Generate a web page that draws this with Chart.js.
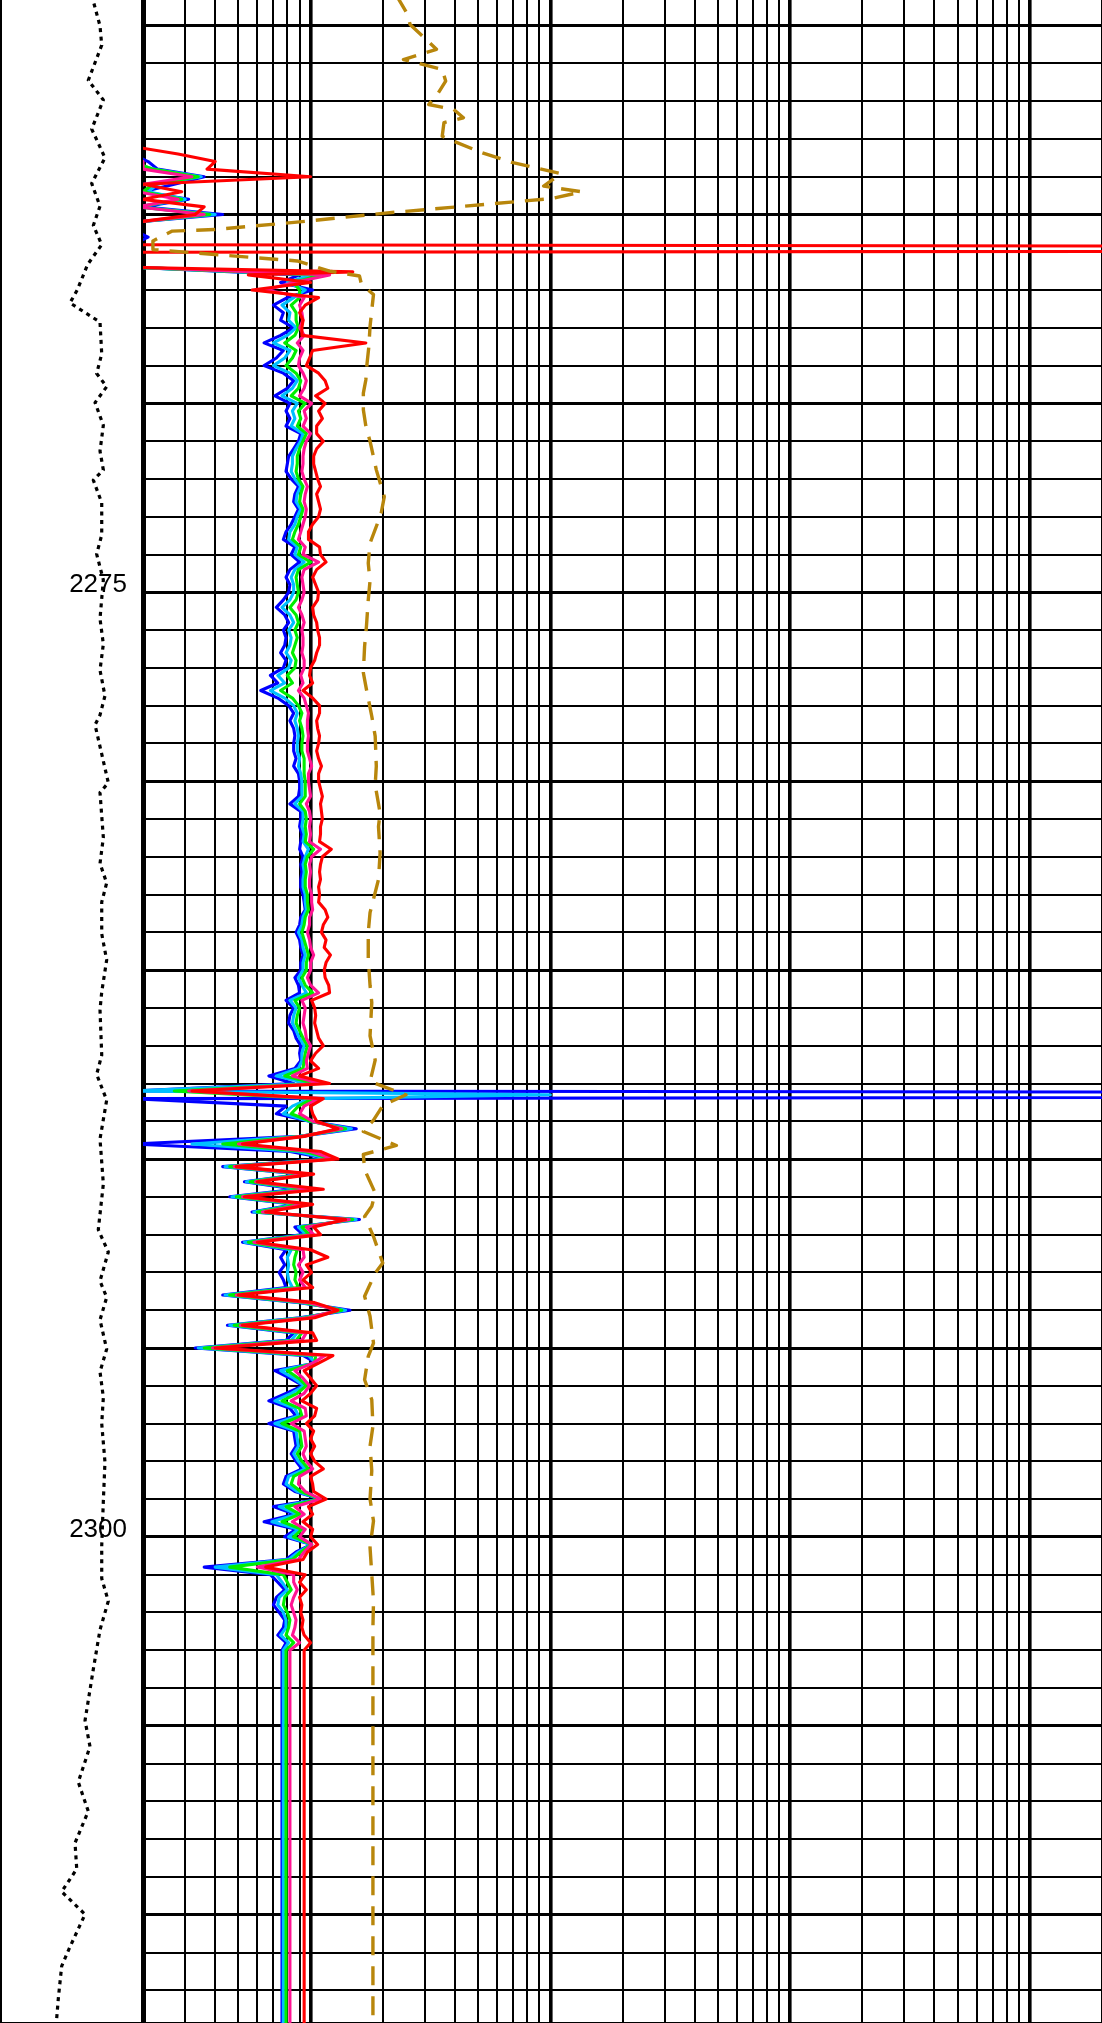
<!DOCTYPE html>
<html lang="en">
<head>
<meta charset="UTF-8">
<title>Resistivity log</title>
<style>
    html, body { margin: 0; padding: 0; background: #fff; overflow: hidden; }
    #track { position: relative; width: 1102px; height: 2023px; }
    #track canvas { position: absolute; top: 0; }
    #grCanvas { left: 0; }
    #logCanvas { left: 137px; }
</style>
<script src="https://cdn.jsdelivr.net/npm/chart.js"></script>
</head>
<body>
<div id="track">
    <canvas id="grCanvas" width="143" height="2023"></canvas>
    <canvas id="logCanvas" width="965" height="2023"></canvas>
</div>
<script>
// depth window and grid
const depthMin = 2259.324;
const depthMax = 2312.866;
const depthLabels = [2275, 2300];
const depthLines = [2260, 2261, 2262, 2263, 2264, 2265, 2266, 2267, 2268, 2269,
    2270, 2271, 2272, 2273, 2274, 2275, 2276, 2277, 2278, 2279,
    2280, 2281, 2282, 2283, 2284, 2285, 2286, 2287, 2288, 2289,
    2290, 2291, 2292, 2293, 2294, 2295, 2296, 2297, 2298, 2299,
    2300, 2301, 2302, 2303, 2304, 2305, 2306, 2307, 2308, 2309,
    2310, 2311, 2312];
const resLines = [2, 3, 4, 5, 6, 7, 8, 9, 10, 20, 30, 40, 50, 60, 70, 80, 90,
    100, 200, 300, 400, 500, 600, 700, 800, 900,
    1000, 2000, 3000, 4000, 5000, 6000, 7000, 8000, 9000, 10000, 20000];
const resDecades = [10, 100, 1000, 10000];

// sample depths shared by the five resistivity curves
const depthGrid = [
    2263.2, 2263.4, 2263.6, 2263.8, 2264.0, 2264.2, 2264.4, 2264.6, 2264.8, 2265.0,
    2265.2, 2265.4, 2265.6, 2265.8, 2266.0, 2266.2, 2266.4, 2266.6, 2266.8, 2267.0,
    2267.2, 2267.4, 2267.6, 2267.8, 2268.0, 2268.2, 2268.4, 2268.6, 2268.8, 2269.0,
    2269.2, 2269.4, 2269.6, 2269.8, 2270.0, 2270.2, 2270.4, 2270.6, 2270.8, 2271.0,
    2271.2, 2271.4, 2271.6, 2271.8, 2272.0, 2272.2, 2272.4, 2272.6, 2272.8, 2273.0,
    2273.2, 2273.4, 2273.6, 2273.8, 2274.0, 2274.2, 2274.4, 2274.6, 2274.8, 2275.0,
    2275.2, 2275.4, 2275.6, 2275.8, 2276.0, 2276.2, 2276.4, 2276.6, 2276.8, 2277.0,
    2277.2, 2277.4, 2277.6, 2277.8, 2278.0, 2278.2, 2278.4, 2278.6, 2278.8, 2279.0,
    2279.2, 2279.4, 2279.6, 2279.8, 2280.0, 2280.2, 2280.4, 2280.6, 2280.8, 2281.0,
    2281.2, 2281.4, 2281.6, 2281.8, 2282.0, 2282.2, 2282.4, 2282.6, 2282.8, 2283.0,
    2283.2, 2283.4, 2283.6, 2283.8, 2284.0, 2284.2, 2284.4, 2284.6, 2284.8, 2285.0,
    2285.2, 2285.4, 2285.6, 2285.8, 2286.0, 2286.2, 2286.4, 2286.6, 2286.8, 2287.0,
    2287.2, 2287.4, 2287.6, 2287.8, 2288.0, 2288.2, 2288.4, 2288.6, 2288.8, 2289.0,
    2289.2, 2289.4, 2289.6, 2289.8, 2290.0, 2290.2, 2290.4, 2290.6, 2290.8, 2291.0,
    2291.2, 2291.4, 2291.6, 2291.8, 2292.0, 2292.2, 2292.4, 2292.6, 2292.8, 2293.0,
    2293.2, 2293.4, 2293.6, 2293.8, 2294.0, 2294.2, 2294.4, 2294.6, 2294.8, 2295.0,
    2295.2, 2295.4, 2295.6, 2295.8, 2296.0, 2296.2, 2296.4, 2296.6, 2296.8, 2297.0,
    2297.2, 2297.4, 2297.6, 2297.8, 2298.0, 2298.2, 2298.4, 2298.6, 2298.8, 2299.0,
    2299.2, 2299.4, 2299.6, 2299.8, 2300.0, 2300.2, 2300.4, 2300.6, 2300.8, 2301.0,
    2301.2, 2301.4, 2301.6, 2301.8, 2302.0, 2302.2, 2302.4, 2302.6, 2302.8, 2303.0,
    2313.0
];

const resBlue = [
    1.8, 1.8, 2.1, 2.3, 3.6, 2.7, 2.0, 3.1, 2.0, 4.3,
    1.9, 1.8, 2.1, 1.8, 1.8, 1.8, 1.9, 9.0, 7.5, 10.2,
    8.0, 7.0, 7.7, 7.5, 8.5, 7.5, 6.4, 7.7, 7.2, 6.4,
    7.7, 8.5, 8.0, 7.1, 8.2, 7.9, 8.2, 7.9, 9.1, 8.9,
    8.5, 8.1, 8.0, 7.9, 8.3, 8.9, 8.6, 8.5, 8.9, 8.6,
    8.3, 7.9, 7.7, 8.6, 8.3, 9.0, 8.2, 7.9, 8.2, 8.1,
    7.7, 7.2, 7.8, 8.1, 7.7, 7.9,
    7.8, 7.5, 7.9, 7.7, 6.8, 7.3, 6.2, 7.3, 8.1, 8.5,
    8.2, 8.5, 8.6, 8.5, 8.5, 8.7, 8.5, 8.9, 9.0, 9.0,
    8.9, 8.2, 9.1, 9.1, 9.0, 9.2, 9.1, 9.0, 9.3, 9.1,
    9.2, 9.1, 9.1, 9.3, 9.4, 9.5, 9.1, 9.0, 8.7, 9.0,
    9.1, 9.3, 9.1, 9.1, 8.6, 8.9, 9.0, 7.9, 8.5, 8.2,
    8.1, 8.5,
    8.7, 9.1, 9.0, 9.1, 8.6, 6.7, 8.5, 1.8, 1.8, 7.9,
    7.2, 9.9, 15.5, 9.0, 1.8, 8.2, 12.0, 4.3, 9.3, 5.3,
    8.7, 4.6, 8.7, 5.7, 16.0, 8.6, 9.3, 5.2, 7.9, 7.5,
    7.8, 7.4, 7.7, 7.9, 4.3, 9.0, 14.6, 9.0, 4.5, 8.5,
    7.9, 3.3, 9.3, 10.6, 7.1, 8.2, 9.3, 7.9, 6.7, 8.2,
    8.7, 6.7,
    8.5, 8.6, 8.7, 8.3, 8.7, 9.2, 7.9, 7.7, 8.6, 11.0,
    7.0, 8.6, 6.4, 8.7, 7.8, 10.1, 8.7, 7.9, 3.6, 6.8,
    7.3, 7.8, 7.2, 7.0, 7.4, 7.8, 7.7, 7.3, 7.9, 7.6,
    7.6
];
const resCyan = [
    1.8, 1.8, 1.8, 2.2, 3.5, 2.3, 2.1, 3.0, 1.9, 4.0,
    1.9, 1.8, 1.8, 1.8, 1.8, 1.8, 1.9, 10.0, 8.0, 9.5,
    8.5, 7.6, 8.2, 8.1, 8.7, 8.0, 7.0, 8.2, 7.8, 7.0,
    8.2, 8.8, 8.4, 7.6, 8.8, 8.4, 8.6, 8.3, 9.3, 9.1,
    8.7, 8.4, 8.4, 8.3, 8.6, 9.1, 8.8, 8.7, 9.1, 8.8,
    8.6, 8.2, 8.1, 8.8, 8.6, 9.4, 8.6, 8.3, 8.5, 8.5,
    8.2, 7.6, 8.2, 8.5, 8.1, 8.3,
    8.2, 7.9, 8.3, 8.1, 7.3, 7.8, 6.8, 7.8, 8.5, 8.8,
    8.6, 8.8, 8.9, 8.8, 8.8, 9.0, 8.9, 9.1, 9.2, 9.2,
    9.2, 8.6, 9.3, 9.3, 9.2, 9.4, 9.3, 9.8, 9.5, 9.3,
    9.4, 9.3, 9.3, 9.5, 9.5, 9.6, 9.3, 9.2, 8.9, 9.2,
    9.3, 9.5, 9.3, 9.3, 8.9, 9.2, 9.6, 8.2, 8.7, 8.5,
    8.4, 8.7,
    9.0, 9.4, 9.2, 9.2, 8.9, 7.2, 9.8, 1.8, 9.9, 8.4,
    7.7, 9.9, 14.8, 9.0, 3.2, 8.8, 12.1, 4.4, 9.4, 5.4,
    9.2, 4.7, 8.9, 5.8, 15.5, 8.9, 9.6, 5.3, 8.3, 8.0,
    8.1, 8.0, 8.1, 8.4, 4.4, 9.2, 14.0, 9.2, 4.6, 8.8,
    8.3, 3.4, 9.8, 10.5, 7.5, 8.5, 9.4, 8.3, 7.1, 8.6,
    8.9, 7.1,
    8.7, 8.8, 8.9, 8.5, 8.9, 9.5, 8.1, 7.9, 8.8, 11.0,
    7.4, 8.8, 6.9, 8.9, 8.1, 10.1, 8.9, 8.1, 4.0, 7.2,
    7.6, 8.0, 7.4, 7.3, 7.7, 7.9, 7.9, 7.5, 8.1, 7.7,
    7.7
];
const resGreen = [
    1.8, 1.8, 1.8, 2.2, 3.4, 2.2, 2.0, 2.9, 1.9, 3.8,
    1.9, 1.8, 1.8, 1.8, 1.8, 1.8, 1.9, 11.0, 8.5, 9.0,
    9.0, 8.3, 8.7, 8.7, 8.9, 8.6, 7.8, 8.7, 8.4, 7.9,
    8.7, 9.1, 8.9, 8.3, 9.5, 8.9, 9.1, 8.8, 9.6, 9.3,
    9.0, 8.8, 8.8, 8.7, 8.9, 9.3, 9.1, 9.0, 9.3, 9.1,
    8.9, 8.6, 8.4, 9.1, 8.9, 10.0, 8.9, 8.7, 8.8, 8.9,
    8.7, 8.2, 8.7, 8.9, 8.6, 8.8,
    8.6, 8.4, 8.7, 8.6, 8.0, 8.4, 7.5, 8.4, 8.9, 9.2,
    9.0, 9.2, 9.3, 9.2, 9.2, 9.4, 9.4, 9.4, 9.5, 9.5,
    9.5, 9.0, 9.5, 9.6, 9.5, 9.6, 9.5, 10.3, 9.7, 9.5,
    9.6, 9.5, 9.5, 9.7, 9.7, 9.8, 9.5, 9.4, 9.2, 9.4,
    9.6, 9.8, 9.6, 9.6, 9.2, 9.5, 10.2, 8.6, 9.0, 8.8,
    8.7, 9.0,
    9.3, 9.7, 9.5, 9.4, 9.3, 7.8, 10.5, 2.7, 10.2, 8.9,
    8.3, 10.0, 14.0, 9.1, 4.3, 9.5, 12.3, 4.6, 9.6, 5.6,
    9.7, 4.9, 9.2, 6.0, 15.0, 9.2, 9.9, 5.5, 8.8, 8.6,
    8.5, 8.7, 8.6, 8.9, 4.6, 9.5, 13.5, 9.5, 4.8, 9.2,
    8.7, 3.6, 10.5, 10.4, 8.0, 8.9, 9.6, 8.8, 7.6, 9.0,
    9.2, 7.6,
    9.0, 9.1, 9.2, 8.8, 9.2, 9.8, 8.5, 8.3, 9.1, 11.0,
    7.9, 9.0, 7.6, 9.2, 8.5, 10.1, 9.1, 8.4, 4.6, 7.7,
    8.0, 8.3, 7.8, 7.7, 8.0, 8.2, 8.1, 7.9, 8.5, 7.9,
    7.9
];
const resPink = [
    1.8, 1.8, 2.0, 2.0, 3.2, 2.0, 1.9, 2.8, 1.9, 3.6,
    1.9, 1.8, 1.8, 1.8, 1.8, 1.8, 1.9, 12.0, 8.5, 6.5,
    9.4, 9.0, 9.2, 9.3, 9.0, 9.4, 8.8, 9.3, 9.0, 8.9,
    9.3, 9.6, 9.4, 9.0, 10.1, 9.4, 9.6, 9.3, 10.0, 9.6,
    9.4, 9.3, 9.3, 9.2, 9.4, 9.7, 9.5, 9.4, 9.6, 9.5,
    9.3, 9.1, 8.9, 9.5, 9.3, 10.8, 9.4, 9.2, 9.3, 9.4,
    9.2, 8.9, 9.2, 9.4, 9.2, 9.3,
    9.3, 9.2, 9.4, 9.4, 9.1, 9.3, 8.9, 9.4, 9.6, 9.8,
    9.7, 9.7, 9.8, 9.7, 9.7, 9.9, 10.1, 9.8, 9.8, 9.9,
    10.0, 9.6, 9.9, 10.0, 9.9, 10.0, 9.9, 11.0, 10.1, 9.9,
    10.0, 9.9, 9.9, 10.1, 10.1, 10.2, 9.9, 9.9, 9.7, 9.9,
    10.0, 10.3, 10.0, 10.0, 9.7, 10.0, 10.8, 9.2, 9.5, 9.4,
    9.3, 9.5,
    9.6, 10.0, 9.8, 9.6, 9.7, 8.4, 11.0, 3.1, 10.8, 9.4,
    9.0, 10.2, 13.5, 9.2, 5.0, 10.0, 12.5, 4.8, 9.8, 5.9,
    10.2, 5.2, 9.6, 6.3, 14.5, 9.6, 10.3, 5.8, 9.3, 9.4,
    8.9, 9.3, 9.0, 9.5, 4.9, 9.8, 13.0, 9.8, 5.1, 9.6,
    9.2, 3.9, 11.5, 10.2, 8.6, 9.3, 9.9, 9.4, 8.3, 9.5,
    9.6, 8.3,
    9.4, 9.5, 9.6, 9.3, 9.6, 10.2, 9.0, 8.9, 9.5, 11.0,
    8.6, 9.4, 8.4, 9.5, 9.0, 10.1, 9.4, 8.9, 6.0, 8.5,
    8.5, 8.8, 8.5, 8.3, 8.5, 8.7, 8.6, 8.4, 9.0, 8.2,
    8.2
];
const resRed = [
    1.8, 2.8, 4.0, 3.7, 10.0, 2.0, 2.9, 2.0, 3.6, 3.3,
    1.9, 1.8, 1.8, 1.8, 1.8, 1.8, 1.9, 5.5, 10.0, 5.7,
    10.8, 9.5, 9.0, 9.3, 9.2, 9.2, 17.0, 10.2, 9.9, 9.6,
    10.8, 11.5, 11.8, 10.5, 11.5, 10.8, 11.2, 10.6, 10.6, 11.3,
    10.6, 10.3, 10.3, 10.5, 10.7, 11.0, 10.6, 10.8, 11.0, 10.8,
    10.2, 9.8, 9.8, 10.9, 11.0, 11.6, 10.6, 10.2, 10.5, 10.8,
    10.7, 10.2, 10.3, 10.6, 10.7, 10.9,
    10.9, 10.6, 10.4, 10.0, 9.9, 10.2, 9.3, 10.2, 10.9, 10.9,
    10.6, 10.7, 10.9, 10.8, 10.6, 10.8, 11.1, 10.8, 10.8, 11.0,
    11.2, 11.0, 11.1, 11.2, 11.0, 11.0, 10.9, 12.2, 11.2, 11.0,
    10.9, 11.0, 10.8, 10.9, 10.8, 11.5, 11.8, 11.3, 11.1, 11.6,
    11.4, 12.1, 11.6, 11.4, 11.5, 11.9, 12.0, 10.1, 10.4, 10.5,
    10.4, 10.6,
    10.8, 11.3, 10.5, 10.0, 10.8, 9.0, 12.0, 3.2, 11.3, 10.0,
    10.2, 10.6, 13.0, 9.4, 5.2, 11.0, 13.0, 4.9, 10.3, 6.0,
    11.3, 5.3, 10.2, 6.5, 14.0, 10.3, 11.0, 6.0, 10.0, 11.8,
    9.6, 10.1, 9.3, 10.2, 5.0, 10.4, 13.0, 10.4, 5.2, 10.2,
    10.6, 4.0, 12.4, 10.8, 9.4, 10.0, 10.6, 10.0, 9.2, 10.6,
    10.4, 9.6,
    10.3, 10.0, 10.4, 10.0, 10.4, 11.3, 10.0, 10.2, 10.3, 11.6,
    9.8, 10.2, 9.3, 10.2, 10.0, 10.7, 9.7, 9.3, 6.5, 9.5,
    9.0, 9.6, 9.0, 9.2, 9.1, 9.3, 9.2, 9.4, 10.0, 9.4,
    9.4
];
// off-scale spikes between the shared samples: [depth, value]
const blueSpikes = [[2288.3, 1e15]];
const cyanSpikes = [[2288.3, 100]];
const redSpikes = [[2265.92, 1e15], [2266.52, 15]];

// dashed curve
const dashDepth = [2259.2, 2259.71, 2259.97, 2260.33, 2260.63, 2260.9, 2261.16, 2261.47, 2261.78, 2262.09,
    2262.22, 2262.44, 2262.57, 2262.93, 2263.06, 2263.37, 2263.63, 2263.92, 2264.25, 2264.4,
    2264.58, 2264.97, 2265.18, 2265.4, 2265.44, 2265.7, 2265.93, 2266.06, 2266.23, 2266.5,
    2266.63, 2266.85, 2267.12, 2267.53, 2267.97, 2268.5, 2268.94, 2269.38, 2269.73, 2270.17,
    2270.6, 2271.0, 2271.76, 2272.47, 2272.9, 2273.26, 2273.7, 2274.23, 2274.7, 2275.2,
    2275.9, 2276.43, 2277.13, 2277.57, 2278.28, 2278.81, 2279.6, 2280.1, 2280.84, 2281.2,
    2281.9, 2282.6, 2283.48, 2284.0, 2284.7, 2285.4, 2285.86, 2286.74, 2287.38, 2287.95,
    2288.3, 2288.57, 2288.97, 2289.27, 2289.64, 2289.88, 2290.28, 2290.9, 2291.25, 2291.52,
    2292.05, 2292.75, 2293.02, 2293.63, 2294.16, 2294.87, 2295.22, 2295.84, 2296.37, 2297.07,
    2297.6, 2298.25, 2299.0, 2299.58, 2300.28, 2300.99, 2301.7, 2302.4, 2313];
const dashValue = [22.8, 25.4, 26, 29.9, 33.5, 24.4, 35.4, 36.6, 34.1, 31.1,
    39.5, 43.4, 36, 35.4, 39.5, 52.1, 69.9, 110.6, 93.8, 135.5,
    101, 20, 9.6, 3.97, 2.65, 2.2, 2.2, 4.0, 8.8, 12,
    16, 16.3, 18.3, 18.0, 17.7, 17.5, 17.2, 17.0, 16.6, 16.6,
    17.0, 17.7, 18.8, 20.3, 19.7, 18.8, 17.7, 17.4, 17.7, 17.4,
    17.1, 16.8, 16.6, 17.1, 18.0, 18.6, 18.8, 18.6, 19.5, 19.2,
    19.5, 19.2, 17.7, 17.4, 17.4, 17.7, 18.0, 17.7, 18.6, 17.7,
    25.0, 20.1, 18.3, 16.6, 22.8, 16.6, 16.8, 18.6, 18.0, 16.8,
    18.3, 20.0, 18.6, 16.8, 17.7, 18.3, 17.4, 16.8, 18.0, 18.2,
    17.7, 18.0, 17.7, 18.3, 17.7, 18.0, 18.3, 18.2, 18.2];

// dotted curve in the depth track (0-150 scale)
const grDepth = [2259.2, 2260.01, 2260.52, 2261.45, 2261.97, 2262.74, 2263.5, 2264.18, 2264.78, 2265.29,
    2265.8, 2266.32, 2267.0, 2267.34, 2267.85, 2268.69, 2269.21, 2269.56, 2269.98, 2270.58,
    2271.26, 2271.76, 2272.03, 2272.63, 2273.48, 2273.99, 2274.67, 2275.7, 2276.37, 2277.06,
    2277.74, 2278.25, 2278.51, 2280.04, 2280.3, 2281.49, 2282.18, 2282.69, 2283.2, 2284.04,
    2284.73, 2285.58, 2286.05, 2287.25, 2287.76, 2288.44, 2289.47, 2290.66, 2291.87, 2292.46,
    2293.23, 2293.66, 2294.26, 2295.03, 2295.63, 2296.31, 2297.0, 2298.02, 2299.05, 2300.24,
    2301.1, 2301.7, 2302.46, 2303.5, 2304.86, 2305.55, 2306.49, 2307.26, 2308.1, 2308.79,
    2309.39, 2309.99, 2310.85, 2311.36, 2312.21, 2312.73, 2313];
const grValue = [96.2, 104.9, 106.7, 92.6, 108.4, 96.2, 110.1, 96.2, 104.9, 97.9,
    106.7, 92, 81, 73.4, 104.9, 106.7, 101.4, 111.9, 99.7, 108.4,
    104.9, 108.4, 97.9, 106.7, 106.7, 101.4, 108.4, 104.9, 108.4, 104.9,
    110.1, 104.9, 99.7, 113.6, 104.9, 108.4, 104.9, 111.9, 106.7, 106.7,
    111.9, 106.7, 104.9, 106.7, 101.4, 111.9, 104.9, 108.4, 103.1, 113.6,
    104.9, 111.9, 104.9, 111.9, 104.9, 108.4, 106.7, 110.1, 108.4, 106.7,
    106.7, 113.6, 104.9, 97.9, 89.2, 94.4, 82.1, 92.6, 78.7, 80.5,
    64.7, 89.2, 73.4, 64.7, 61.2, 59.5, 59.0];

function toPoints(depths, values, extra) {
    const pts = depths.map((d, i) => ({ x: values[i], y: d }));
    (extra || []).forEach(p => pts.push({ x: p[1], y: p[0] }));
    return pts.sort((a, b) => a.y - b.y);
}

function curve(data, color, width, dash) {
    return {
        data: data,
        showLine: true,
        borderColor: color,
        borderWidth: width,
        borderDash: dash || [],
        borderJoinStyle: "round",
        pointRadius: 0,
        fill: false,
        tension: 0
    };
}

const depthLabelPlugin = {
    id: "depthLabels",
    beforeDatasetsDraw(chart) {
        const ctx = chart.ctx;
        const y = chart.scales.y;
        ctx.save();
        ctx.font = '26px "Liberation Sans", Arial, sans-serif';
        ctx.fillStyle = "#000";
        ctx.textAlign = "right";
        ctx.textBaseline = "alphabetic";
        depthLabels.forEach(d => {
            ctx.fillText(String(d), chart.chartArea.right - 16, y.getPixelForValue(d));
        });
        ctx.restore();
    }
};

const quiet = { legend: { display: false }, tooltip: { enabled: false } };

new Chart(document.getElementById("grCanvas"), {
    type: "scatter",
    data: { datasets: [curve(toPoints(grDepth, grValue), "#000", 3.2, [4, 4.5])] },
    options: {
        responsive: false,
        animation: false,
        events: [],
        plugins: quiet,
        scales: {
            x: {
                type: "linear", min: 0, max: 150,
                ticks: { display: false },
                grid: { display: false, drawTicks: false },
                border: { display: true, color: "#000", width: 3 }
            },
            y: {
                type: "linear", reverse: true, min: depthMin, max: depthMax,
                ticks: { display: false },
                grid: { display: false, drawTicks: false },
                border: { display: true, color: "#000", width: 3 }
            }
        }
    },
    plugins: [depthLabelPlugin]
});

new Chart(document.getElementById("logCanvas"), {
    type: "scatter",
    data: {
        datasets: [
            curve(toPoints(dashDepth, dashValue), "#b8860b", 3.4, [19, 11]),
            curve(toPoints(depthGrid, resRed, redSpikes), "#ff0000", 3.1),
            curve(toPoints(depthGrid, resPink), "#ff1493", 3.1),
            curve(toPoints(depthGrid, resGreen), "#00ee00", 3.1),
            curve(toPoints(depthGrid, resCyan, cyanSpikes), "#00bfff", 3.1),
            curve(toPoints(depthGrid, resBlue, blueSpikes), "#0000ff", 3.1)
        ]
    },
    options: {
        responsive: false,
        animation: false,
        events: [],
        layout: { padding: { left: 6, right: 0, top: 0, bottom: 0 } },
        plugins: quiet,
        scales: {
            x: {
                type: "logarithmic", min: 2, max: 20000,
                afterBuildTicks: s => { s.ticks = resLines.map(v => ({ value: v })); },
                ticks: { display: false },
                grid: {
                    color: "#000",
                    drawTicks: false,
                    lineWidth: c => (c.tick && resDecades.includes(c.tick.value) ? 3.6 : 2.0)
                },
                border: { display: true, color: "#000", width: 3 }
            },
            y: {
                type: "linear", reverse: true, min: depthMin, max: depthMax,
                afterBuildTicks: s => { s.ticks = depthLines.map(v => ({ value: v })); },
                ticks: { display: false },
                grid: {
                    color: "#000",
                    drawTicks: false,
                    lineWidth: c => (c.tick && c.tick.value % 5 === 0 ? 2.9 : 1.9)
                },
                border: { display: true, color: "#000", width: 5 }
            }
        }
    }
});
</script>
</body>
</html>
